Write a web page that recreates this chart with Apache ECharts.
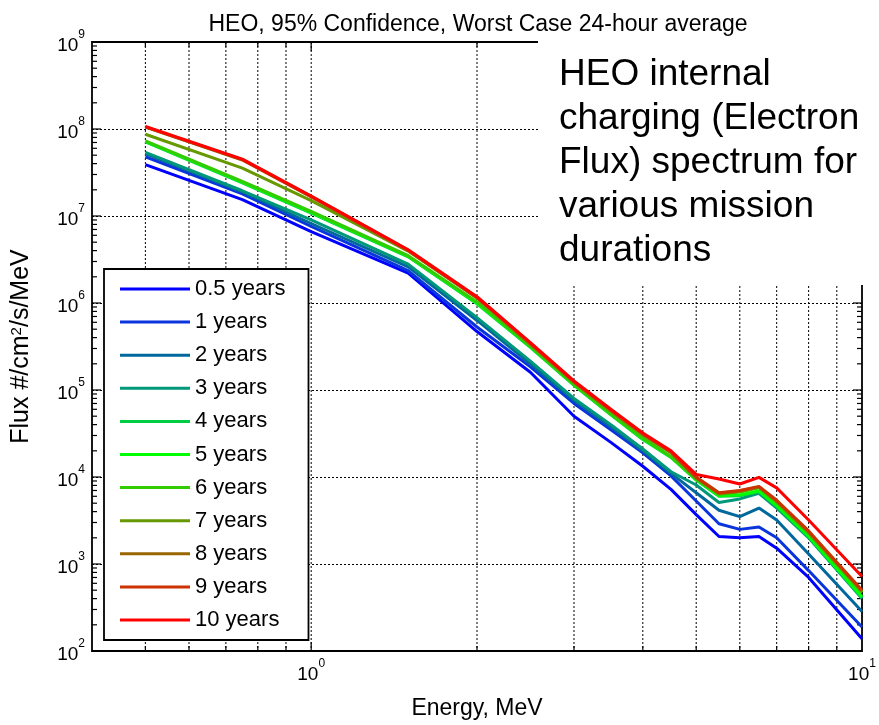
<!DOCTYPE html>
<html><head><meta charset="utf-8">
<script src="https://cdn.jsdelivr.net/npm/echarts@6/dist/echarts.min.js"></script>
<style>html,body{margin:0;padding:0;background:#fff}#c{width:879px;height:725px}</style>
</head><body><div id="c"></div>
<script>
const energies = [0.5, 0.75, 1, 1.5, 2, 2.5, 3, 3.5, 4, 4.5, 5, 5.5, 6, 6.5, 7, 8, 10];
const seriesNames = ['0.5 years','1 years','2 years','3 years','4 years','5 years','6 years','7 years','8 years','9 years','10 years'];
const seriesColors = ['#0000ff','#0a35dc','#00689c','#00987a','#00cc44','#00ff00','#33cc00','#669900','#996600','#cc3300','#ff0000'];
const y05 = [3.9e7, 1.54e7, 6.6e6, 2.2e6, 4.7e5, 1.6e5, 5.0e4, 2.5e4, 1.33e4, 7.2e3, 3.7e3, 2.07e3, 2.0e3, 2.07e3, 1.52e3, 7.0e2, 1.38e2];
const y1  = [4.8e7, 1.8e7, 7.6e6, 2.35e6, 5.3e5, 1.85e5, 7.0e4, 3.5e4, 1.9e4, 1.03e4, 5.3e3, 2.9e3, 2.5e3, 2.66e3, 2.0e3, 8.4e2, 1.89e2];
const y2  = [5.2e7, 1.9e7, 8.2e6, 2.6e6, 6.3e5, 2.0e5, 7.6e4, 3.8e4, 2.0e4, 1.1e4, 6.6e3, 4.15e3, 3.5e3, 4.4e3, 3.2e3, 1.3e3, 2.85e2];
const y3  = [5.4e7, 1.95e7, 9.0e6, 2.8e6, 6.8e5, 2.15e5, 8.0e4, 4.0e4, 2.1e4, 1.15e4, 8.1e3, 5.1e3, 5.6e3, 6.5e3, 4.4e3, 2.0e3, 4.0e2];
const y4  = [7.1e7, 2.4e7, 1.08e7, 3.4e6, 9.8e5, 3.1e5, 1.13e5, 5.2e4, 2.7e4, 1.68e4, 9.2e3, 6.0e3, 6.1e3, 6.8e3, 4.6e3, 2.05e3, 4.1e2];
const y5  = [7.2e7, 2.45e7, 1.1e7, 3.45e6, 1.0e6, 3.15e5, 1.15e5, 5.25e4, 2.75e4, 1.7e4, 9.3e3, 6.1e3, 6.2e3, 6.9e3, 4.7e3, 2.1e3, 4.2e2];
const y6  = [7.3e7, 2.5e7, 1.13e7, 3.5e6, 1.03e6, 3.2e5, 1.16e5, 5.3e4, 2.8e4, 1.72e4, 9.5e3, 6.3e3, 6.7e3, 7.5e3, 5.1e3, 2.25e3, 4.7e2];
const y7  = [8.7e7, 3.55e7, 1.5e7, 3.95e6, 1.14e6, 3.35e5, 1.22e5, 5.7e4, 3.05e4, 1.9e4, 9.7e3, 6.4e3, 6.8e3, 7.6e3, 5.2e3, 2.3e3, 4.8e2];
const y8  = [1.05e8, 4.4e7, 1.66e7, 4.0e6, 1.15e6, 3.4e5, 1.23e5, 5.8e4, 3.1e4, 1.92e4, 9.8e3, 6.5e3, 6.9e3, 7.7e3, 5.3e3, 2.35e3, 4.9e2];
const y9  = [1.06e8, 4.45e7, 1.68e7, 4.05e6, 1.16e6, 3.45e5, 1.25e5, 5.9e4, 3.15e4, 1.95e4, 1.0e4, 6.6e3, 7.0e3, 7.8e3, 5.4e3, 2.4e3, 5.0e2];
const y10 = [1.07e8, 4.5e7, 1.7e7, 4.1e6, 1.18e6, 3.5e5, 1.27e5, 6.0e4, 3.2e4, 2.0e4, 1.07e4, 9.5e3, 8.3e3, 9.9e3, 7.5e3, 3.2e3, 7.2e2];
const allY = [y05, y1, y2, y3, y4, y5, y6, y7, y8, y9, y10];

const xGridTicks = [0.5, 0.6, 0.7, 0.8, 0.9, 1, 2, 3, 4, 5, 6, 7, 8, 9];
const yMinorMultipliers = [2, 3, 4, 5, 6, 7, 8, 9];
const yDecades = [1e2, 1e3, 1e4, 1e5, 1e6, 1e7, 1e8, 1e9];
const yTickValues = [];
yDecades.forEach(d => { yTickValues.push([d, 1]); if (d < 1e9) yMinorMultipliers.forEach(m => yTickValues.push([d * m, 0])); });

const X_MIN = 0.4, X_MAX = 10, Y_MIN = 1e2, Y_MAX = 1e9;
const FONT = 'Liberation Sans, Arial, sans-serif';

function powLabel(v) {
  const e = Math.round(Math.log10(v));
  if (Math.abs(Math.log10(v) - e) > 1e-6) return '';
  return '{b|10}{s|' + e + '}';
}
const labelRich = {
  b: { fontSize: 19, fontFamily: FONT, color: '#000', lineHeight: 26, verticalAlign: 'bottom' },
  s: { fontSize: 12, fontFamily: FONT, color: '#000', lineHeight: 12, verticalAlign: 'top' }
};

const lineSeries = seriesNames.map((n, i) => ({
  name: n, type: 'line', data: energies.map((e, k) => [e, allY[i][k]]),
  showSymbol: false, symbol: 'none', color: seriesColors[i],
  lineStyle: { width: 3, color: seriesColors[i] }, z: 3, silent: true, animation: false
}));

const vGrid = {
  type: 'custom', coordinateSystem: 'cartesian2d', silent: true, z: 1, animation: false,
  data: xGridTicks.map(v => [v, 1e5]),
  renderItem: function (params, api) {
    const x = api.value(0);
    const t = api.coord([x, Y_MAX]);
    const b = api.coord([x, Y_MIN]);
    const major = Math.abs(Math.log10(x) - Math.round(Math.log10(x))) < 1e-6;
    const len = major ? 9 : 5;
    return { type: 'group', children: [
      { type: 'line', shape: { x1: t[0], y1: t[1], x2: b[0], y2: b[1] }, style: { stroke: '#000', lineWidth: 1, lineDash: [2, 2] } },
      { type: 'line', shape: { x1: b[0], y1: b[1], x2: b[0], y2: b[1] - len }, style: { stroke: '#000', lineWidth: 1.2 } },
      { type: 'line', shape: { x1: t[0], y1: t[1], x2: t[0], y2: t[1] + len }, style: { stroke: '#000', lineWidth: 1.2 } }
    ]};
  }
};
const yTicks = {
  type: 'custom', coordinateSystem: 'cartesian2d', silent: true, z: 1, animation: false,
  data: yTickValues.map(p => [1, p[0], p[1]]),
  renderItem: function (params, api) {
    const v = api.value(1);
    const major = api.value(2) === 1;
    const len = major ? 9 : 5;
    const l = api.coord([X_MIN, v]);
    const r = api.coord([X_MAX, v]);
    return { type: 'group', children: [
      { type: 'line', shape: { x1: l[0], y1: l[1], x2: l[0] + len, y2: l[1] }, style: { stroke: '#000', lineWidth: 1.2 } },
      { type: 'line', shape: { x1: r[0], y1: r[1], x2: r[0] - len, y2: r[1] }, style: { stroke: '#000', lineWidth: 1.2 } }
    ]};
  }
};

const chart = echarts.init(document.getElementById('c'), null, { renderer: 'canvas' });
chart.setOption({
  animation: false,
  backgroundColor: '#fff',
  title: {
    text: 'HEO, 95% Confidence, Worst Case 24-hour average',
    left: 473, textAlign: 'center', top: 8,
    textStyle: { fontFamily: FONT, fontSize: 23, fontWeight: 'normal', color: '#000' }
  },
  grid: { left: 92, right: 17, top: 42, bottom: 74, show: true, borderColor: '#000', borderWidth: 1.8, backgroundColor: 'transparent' },
  xAxis: {
    type: 'log', logBase: 10, min: X_MIN, max: X_MAX,
    name: 'Energy, MeV', nameLocation: 'middle', nameGap: 46,
    nameTextStyle: { fontFamily: FONT, fontSize: 23, color: '#000' },
    axisLine: { show: false }, axisTick: { show: false }, splitLine: { show: false },
    axisLabel: { formatter: powLabel, rich: labelRich, margin: 7, showMinLabel: false }
  },
  yAxis: {
    type: 'log', logBase: 10, min: Y_MIN, max: Y_MAX,
    name: 'Flux #/cm{sup|2}/s/MeV', nameLocation: 'middle', nameGap: 58, nameRotate: 90,
    nameTextStyle: { fontFamily: FONT, fontSize: 25, color: '#000',
      rich: { sup: { fontSize: 15, fontFamily: FONT, color: '#000', verticalAlign: 'top', lineHeight: 14 } } },
    axisLine: { show: false }, axisTick: { show: false },
    splitLine: { show: true, lineStyle: { color: '#000', width: 1, type: [2, 2] } },
    axisLabel: { formatter: powLabel, rich: labelRich, margin: 7 }
  },
  legend: {
    data: seriesNames, orient: 'vertical', left: 104, top: 269,
    backgroundColor: '#fff', borderColor: '#000', borderWidth: 1.8,
    padding: [9, 23, 9, 16], itemWidth: 70, itemHeight: 3, itemGap: 11.1, icon: 'rect',
    selectedMode: false,
    textStyle: { fontFamily: FONT, fontSize: 22, color: '#000', lineHeight: 20 }
  },
  graphic: [
    { type: 'rect', z: 100, zlevel: 0, shape: { x: 538, y: 39, width: 341, height: 246 }, style: { fill: '#fff' }, silent: true },
    { type: 'text', z: 101, x: 559, y: 53, silent: true,
      style: { text: 'HEO internal\ncharging (Electron\nFlux) spectrum for\nvarious mission\ndurations',
        fontFamily: FONT, fontSize: 37, lineHeight: 44, fill: '#000', verticalAlign: 'top', align: 'left' } }
  ],
  series: [vGrid, yTicks].concat(lineSeries)
});
</script></body></html>
